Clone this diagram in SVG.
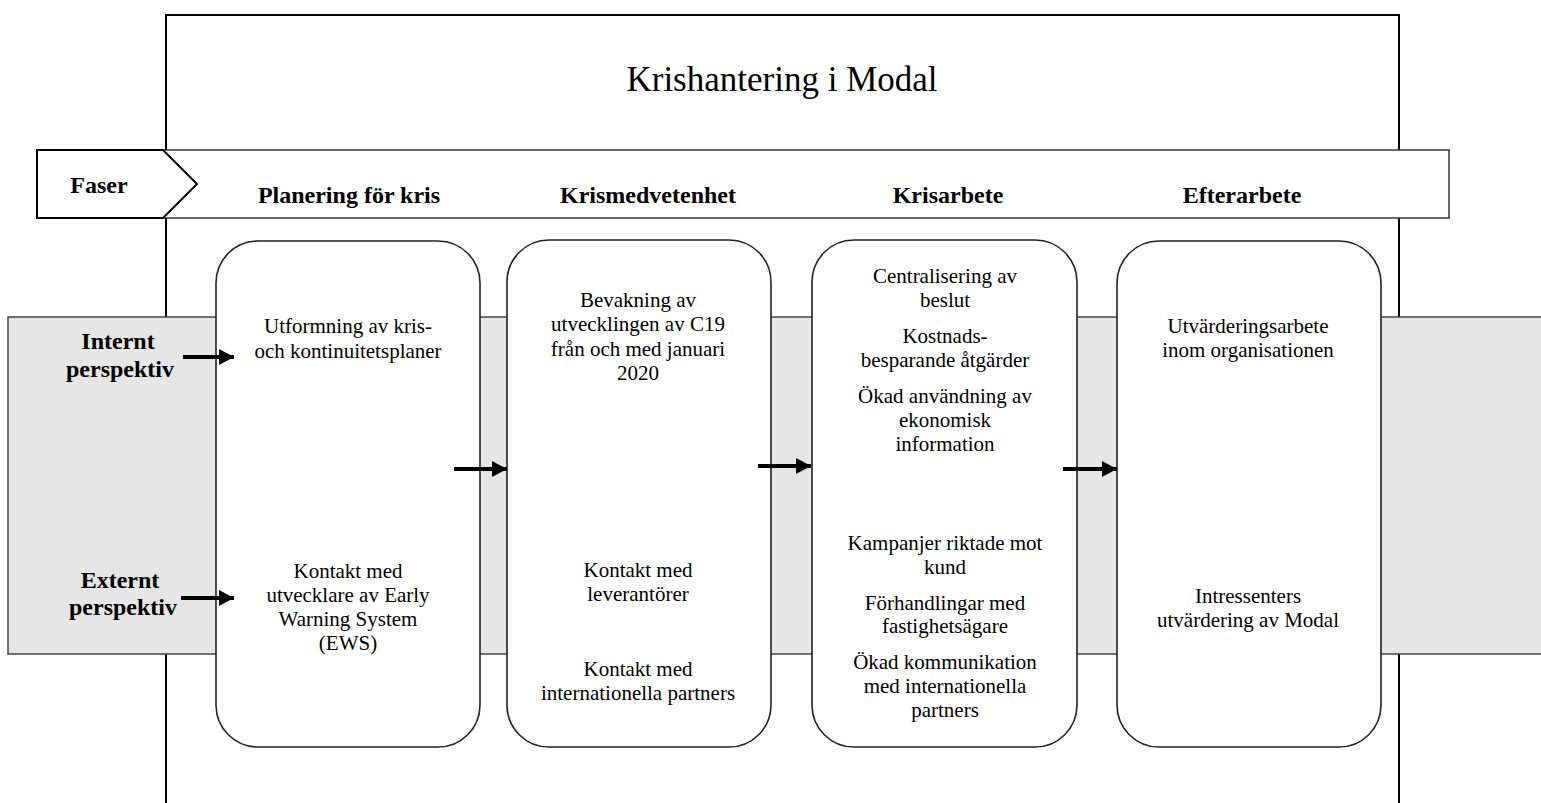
<svg xmlns="http://www.w3.org/2000/svg" width="1541" height="803" viewBox="0 0 1541 803">
<defs>
<style>
.t{font-family:"Liberation Serif","Times New Roman",serif;fill:#000;text-anchor:middle}
.body{font-size:21px}
.bold{font-weight:bold;font-size:24px}
.title{font-size:35px}
.box{fill:#fff;stroke:#222;stroke-width:1.6}
.arrow{stroke:#000;stroke-width:4;fill:none;marker-end:url(#ah)}
</style>
<marker id="ah" markerUnits="userSpaceOnUse" markerWidth="16" markerHeight="16" refX="15" refY="8" orient="auto">
<path d="M0,0 L15,8 L0,16 z" fill="#000"/>
</marker>
</defs>
<rect width="1541" height="803" fill="#fff"/>
<g id="frame">
<rect x="166" y="15" width="1233" height="820" fill="#fff" stroke="#000" stroke-width="2"/>
<text class="t title" x="782" y="91">Krishantering i Modal</text>
</g>
<g id="phase-bar">
<rect x="163" y="150" width="1286" height="68" fill="#fff" stroke="#333" stroke-width="1.5"/>
<polygon points="37,150 163,150 197,184 163,218 37,218" fill="#fff" stroke="#000" stroke-width="2"/>
<text class="t bold" x="99" y="193">Faser</text>
<text class="t bold" x="349" y="203">Planering för kris</text>
<text class="t bold" x="648" y="203">Krismedvetenhet</text>
<text class="t bold" x="948" y="203">Krisarbete</text>
<text class="t bold" x="1242" y="203">Efterarbete</text>
</g>
<g id="perspective-band">
<rect x="8" y="317" width="1545" height="337" fill="#e6e6e6" stroke="#444" stroke-width="1.5"/>
<text class="t bold" x="118" y="349">Internt</text>
<text class="t bold" x="120" y="377">perspektiv</text>
<text class="t bold" x="120" y="588">Externt</text>
<text class="t bold" x="123" y="615">perspektiv</text>
</g>
<g id="box-planering">
<rect class="box" x="216" y="241" width="264" height="506" rx="42" ry="42"/>
<text class="t body"><tspan x="348" y="333">Utformning av kris-</tspan><tspan x="348" y="358">och kontinuitetsplaner</tspan></text>
<text class="t body"><tspan x="348" y="578">Kontakt med</tspan><tspan x="348" y="602">utvecklare av Early</tspan><tspan x="348" y="626">Warning System</tspan><tspan x="348" y="650">(EWS)</tspan></text>
</g>
<g id="box-krismedvetenhet">
<rect class="box" x="507" y="240" width="264" height="507" rx="42" ry="42"/>
<text class="t body"><tspan x="638" y="307">Bevakning av</tspan><tspan x="638" y="331">utvecklingen av C19</tspan><tspan x="638" y="356">från och med januari</tspan><tspan x="638" y="380">2020</tspan></text>
<text class="t body"><tspan x="638" y="577">Kontakt med</tspan><tspan x="638" y="601">leverantörer</tspan></text>
<text class="t body"><tspan x="638" y="676">Kontakt med</tspan><tspan x="638" y="700">internationella partners</tspan></text>
</g>
<g id="box-krisarbete">
<rect class="box" x="812" y="240" width="265" height="507" rx="42" ry="42"/>
<text class="t body"><tspan x="945" y="283">Centralisering av</tspan><tspan x="945" y="307">beslut</tspan></text>
<text class="t body"><tspan x="945" y="343">Kostnads-</tspan><tspan x="945" y="367">besparande åtgärder</tspan></text>
<text class="t body"><tspan x="945" y="403">Ökad användning av</tspan><tspan x="945" y="427">ekonomisk</tspan><tspan x="945" y="451">information</tspan></text>
<text class="t body"><tspan x="945" y="550">Kampanjer riktade mot</tspan><tspan x="945" y="574">kund</tspan></text>
<text class="t body"><tspan x="945" y="610">Förhandlingar med</tspan><tspan x="945" y="633">fastighetsägare</tspan></text>
<text class="t body"><tspan x="945" y="669">Ökad kommunikation</tspan><tspan x="945" y="693">med internationella</tspan><tspan x="945" y="717">partners</tspan></text>
</g>
<g id="box-efterarbete">
<rect class="box" x="1117" y="241" width="264" height="506" rx="42" ry="42"/>
<text class="t body"><tspan x="1248" y="333">Utvärderingsarbete</tspan><tspan x="1248" y="357">inom organisationen</tspan></text>
<text class="t body"><tspan x="1248" y="603">Intressenters</tspan><tspan x="1248" y="627">utvärdering av Modal</tspan></text>
</g>
<g id="connectors">
<line class="arrow" x1="183" y1="357" x2="234" y2="357"/>
<line class="arrow" x1="181" y1="598" x2="234" y2="598"/>
<line class="arrow" x1="454" y1="469" x2="507" y2="469"/>
<line class="arrow" x1="758" y1="466" x2="811" y2="466"/>
<line class="arrow" x1="1063" y1="469" x2="1117" y2="469"/>
</g>
</svg>
